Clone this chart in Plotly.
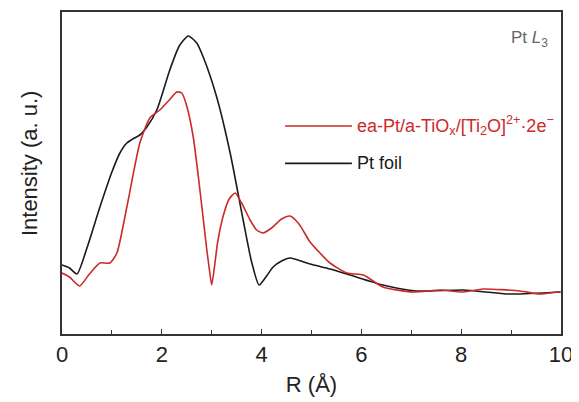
import plotly.graph_objects as go

# Pt foil (black)
foil_r = [0.0, 0.15, 0.3, 0.5, 0.76, 1.0, 1.16, 1.3, 1.45, 1.56, 1.7, 1.9, 2.16, 2.35, 2.53, 2.7, 2.83, 3.1, 3.37, 3.63, 3.8, 3.95, 4.1, 4.23, 4.4, 4.57, 4.97, 5.37, 5.77, 6.43, 7.1, 8.04, 8.98, 9.98]
foil_i = [69, 66, 60, 86, 127, 162, 181, 191, 196, 199, 207, 224, 264, 288, 298, 291, 277, 237, 181, 114, 72, 49, 58, 67, 73, 76, 70, 65, 59, 49, 43, 44, 40, 42]

# ea-Pt/a-TiOx/[Ti2O]2+·2e- (red)
sample_r = [0.0, 0.15, 0.35, 0.55, 0.76, 0.96, 1.1, 1.3, 1.56, 1.76, 1.96, 2.15, 2.3, 2.4, 2.5, 2.63, 2.75, 2.9, 2.96, 3.0, 3.05, 3.12, 3.23, 3.35, 3.47, 3.6, 3.77, 3.9, 4.03, 4.2, 4.4, 4.57, 4.75, 4.97, 5.17, 5.37, 5.71, 6.04, 6.43, 7.03, 7.58, 8.04, 8.44, 9.18, 9.58, 9.92, 10.0]
sample_i = [61, 57, 48, 60, 71, 71, 81, 127, 191, 216, 224, 234, 242, 241, 228, 197, 150, 85, 62, 49, 65, 92, 118, 135, 141, 131, 114, 104, 101, 106, 115, 118, 110, 92, 81, 71, 61, 59, 47, 42, 44, 42, 45, 43, 40, 42, 42]

x_ticks = [0, 2, 4, 6, 8, 10]

RED = "#cc2a2a"
BLACK = "#1a1a1a"

fig = go.Figure()
fig.add_trace(go.Scatter(x=foil_r, y=foil_i, mode="lines",
                         line=dict(color=BLACK, width=1.6, shape="spline", smoothing=0.6),
                         showlegend=False))
fig.add_trace(go.Scatter(x=sample_r, y=sample_i, mode="lines",
                         line=dict(color=RED, width=1.6, shape="spline", smoothing=0.6),
                         showlegend=False))

fig.update_layout(
    width=571, height=394,
    margin=dict(l=54, r=18, t=4, b=68),
    plot_bgcolor="white", paper_bgcolor="white",
    font=dict(family="Liberation Sans, Arial, sans-serif", color="#222"),
    xaxis=dict(range=[0, 10], tickvals=x_ticks, ticktext=[str(v) for v in x_ticks],
               ticks="inside", ticklen=5, tickcolor="#333", tickwidth=1.2,
               minor=dict(tickvals=[1, 3, 5, 7, 9], ticks="inside", ticklen=4, tickcolor="#333"),
               showline=True, linecolor="#333", linewidth=1.5, mirror=True,
               showgrid=False, zeroline=False, automargin=False,
               tickfont=dict(size=22, color="#222"),
               title=dict(text="R (Å)", font=dict(size=22, color="#222"), standoff=10)),
    yaxis=dict(range=[0, 322], showticklabels=False, ticks="",
               showline=True, linecolor="#333", linewidth=1.5, mirror=True,
               showgrid=False, zeroline=False, automargin=False),
)

# y-axis title
fig.add_annotation(xref="paper", yref="paper", x=-0.066, y=0.531, xanchor="center", yanchor="middle",
                   text="Intensity (a. u.)", textangle=-90, showarrow=False,
                   font=dict(size=22, color="#222"))

# legend drawn manually
fig.add_shape(type="line", xref="paper", yref="paper", x0=0.447, x1=0.581, y0=0.646, y1=0.646,
              line=dict(color=RED, width=1.6))
fig.add_shape(type="line", xref="paper", yref="paper", x0=0.447, x1=0.581, y0=0.530, y1=0.530,
              line=dict(color=BLACK, width=1.6))
fig.add_annotation(xref="paper", yref="paper", x=0.587, y=0.646, xanchor="left", yanchor="middle",
                   text="ea-Pt/a-TiO<sub>x</sub>/[Ti<sub>2</sub>O]<sup>2+</sup>·2e<sup>−</sup>",
                   showarrow=False, font=dict(size=18, color=RED))
fig.add_annotation(xref="paper", yref="paper", x=0.587, y=0.530, xanchor="left", yanchor="middle",
                   text="Pt foil", showarrow=False, font=dict(size=18, color=BLACK))
fig.add_annotation(xref="paper", yref="paper", x=0.978, y=0.915, xanchor="right", yanchor="middle",
                   text="Pt <i>L</i><sub>3</sub>", showarrow=False, font=dict(size=17, color="#666"))

fig.write_html("out.html")
